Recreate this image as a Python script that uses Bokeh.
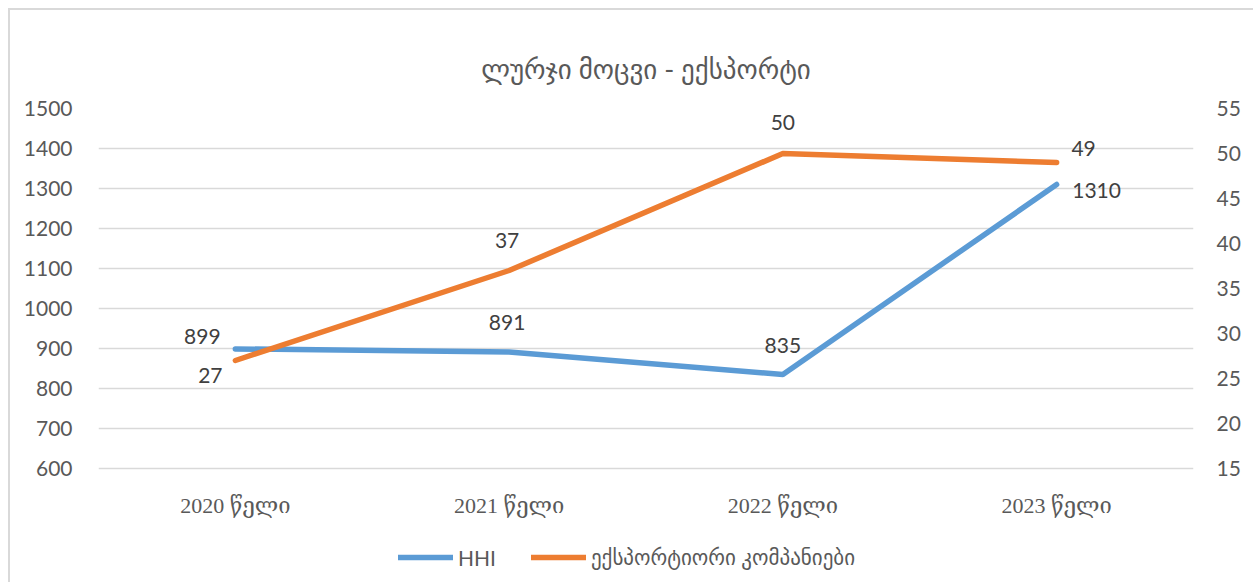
from bokeh.plotting import figure
from bokeh.models import (Range1d, LinearAxis, FixedTicker, ColumnDataSource,
                          LabelSet, Legend, LegendItem)
from bokeh.core.properties import value
from bokeh.embed import file_html
from bokeh.resources import INLINE

# ---- data ----
title_text = "ლურჯი მოცვი - ექსპორტი"
categories = ["2020 წელი", "2021 წელი", "2022 წელი", "2023 წელი"]
hhi = [899, 891, 835, 1310]
exporters = [27, 37, 50, 49]
series_names = ["HHI", "ექსპორტიორი კომპანიები"]
left_ticks = [600, 700, 800, 900, 1000, 1100, 1200, 1300, 1400, 1500]
right_ticks = [15, 20, 25, 30, 35, 40, 45, 50, 55]

# label pixel offsets (styling)
hhi_dx = [-33, -2, 0, 40]
hhi_dy = [12, 30, 29, -6]
exp_dx = [-25, -2, 0, 27]
exp_dy = [-15, 30, 31, 14]

BLUE = "#5B9BD5"
ORANGE = "#ED7D31"
GRID = "#D9D9D9"
TICK = "#595959"
LBL = "#404040"
NUM_FONT = "Lato"
CAT_FONT = "Liberation Serif, DejaVu Serif"
GEO_FONT = "Lato, DejaVu Sans"

# geometry (pixels)
W, H = 1245, 574
TOP, LEFT, RIGHT = 98, 88, 62
frame_h = H - TOP                      # frame reaches canvas bottom
axis_px = 360                          # pixel span of the 600..1500 / 15..55 axes
l0, l1 = left_ticks[0], left_ticks[-1]
r0, r1_ = right_ticks[0], right_ticks[-1]
left_start = l1 - (l1 - l0) * frame_h / axis_px
right_start = r1_ - (r1_ - r0) * frame_h / axis_px

p = figure(x_range=categories, y_range=Range1d(left_start, l1),
           width=W, height=H, output_backend="svg", toolbar_location=None,
           min_border_left=LEFT, min_border_right=RIGHT, min_border_top=TOP, min_border_bottom=0)
p.margin = (8, 0, 0, 8)
p.styles = {"border-top": "2px solid #D9D9D9", "border-left": "2px solid #D9D9D9"}
p.extra_y_ranges = {"exp": Range1d(right_start, r1_)}

p.title.text = title_text
p.title.align = "center"
p.title.text_font = GEO_FONT
p.title.text_font_size = "27px"
p.title.text_font_style = "normal"
p.title.text_color = TICK
p.title.standoff = 48

p.outline_line_color = None
p.background_fill_color = "white"
p.border_fill_color = "white"

# left axis
ya = p.yaxis[0]
ya.ticker = FixedTicker(ticks=left_ticks)
ya.axis_line_color = None
ya.major_tick_line_color = None
ya.minor_tick_line_color = None
ya.major_label_text_font = NUM_FONT
ya.major_label_text_font_size = "21px"
ya.major_label_text_color = TICK
ya.major_label_standoff = 20

# right axis
ra = LinearAxis(y_range_name="exp", ticker=FixedTicker(ticks=right_ticks))
ra.axis_line_color = None
ra.major_tick_line_color = None
ra.minor_tick_line_color = None
ra.major_label_text_font = NUM_FONT
ra.major_label_text_font_size = "21px"
ra.major_label_text_color = TICK
ra.major_label_standoff = 17
p.add_layout(ra, "right")

p.xaxis.visible = False
p.xgrid.grid_line_color = None
p.ygrid.grid_line_color = GRID
p.ygrid.grid_line_width = 1.5
p.ygrid.ticker = FixedTicker(ticks=left_ticks)

src = ColumnDataSource(dict(cat=categories, hhi=hhi, exp=exporters,
                            base=[l0] * len(categories),
                            hhi_t=[str(v) for v in hhi], exp_t=[str(v) for v in exporters],
                            hdx=hhi_dx, hdy=hhi_dy, edx=exp_dx, edy=exp_dy))

r1 = p.line("cat", "hhi", source=src, line_color=BLUE, line_width=5.5, line_cap="round", line_join="round")
r2 = p.line("cat", "exp", source=src, y_range_name="exp", line_color=ORANGE, line_width=5.5,
            line_cap="round", line_join="round")

# category labels (below the 600 gridline)
p.add_layout(LabelSet(x="cat", y="base", text="cat", source=src, y_offset=-37,
                      text_align="center", text_baseline="middle", text_font=value(CAT_FONT),
                      text_font_size=value("22px"), text_color=TICK))

p.add_layout(LabelSet(x="cat", y="hhi", text="hhi_t", source=src, x_offset="hdx", y_offset="hdy",
                      text_align="center", text_baseline="middle", text_font=value(NUM_FONT),
                      text_font_size=value("21px"), text_color=LBL))
p.add_layout(LabelSet(x="cat", y="exp", text="exp_t", source=src, y_range_name="exp",
                      x_offset="edx", y_offset="edy",
                      text_align="center", text_baseline="middle", text_font=value(NUM_FONT),
                      text_font_size=value("21px"), text_color=LBL))

legend = Legend(items=[LegendItem(label=series_names[0], renderers=[r1]),
                       LegendItem(label=series_names[1], renderers=[r2])],
                orientation="horizontal", location=(300, 14),
                glyph_width=55, glyph_height=20, label_standoff=5, spacing=35,
                label_text_font=GEO_FONT, label_text_font_size="21px", label_text_color=TICK,
                border_line_color=None, background_fill_alpha=0, padding=0, margin=0)
p.add_layout(legend, "center")

open("out.html", "w").write(file_html(p, INLINE))
